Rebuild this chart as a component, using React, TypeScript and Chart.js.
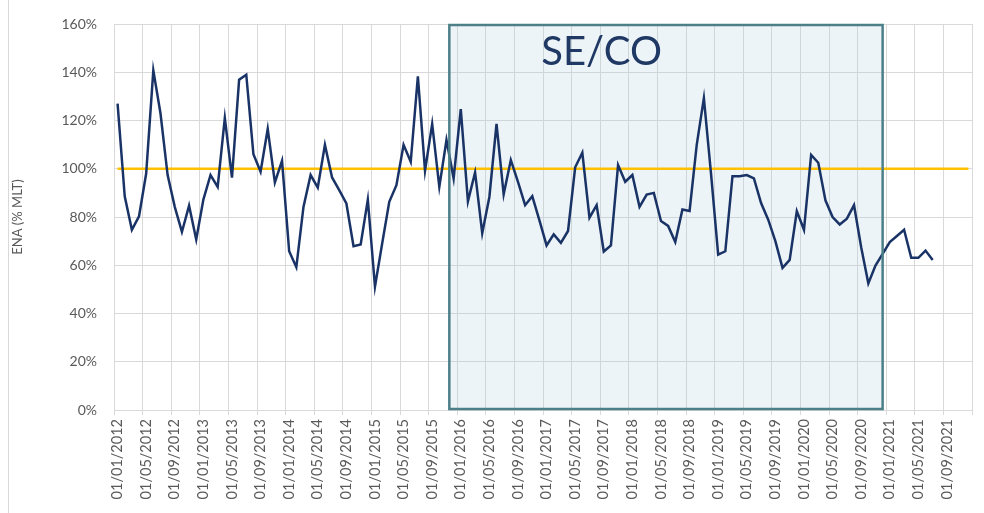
import React, { useEffect, useRef } from "react";
import { Chart, registerables } from "chart.js";

Chart.register(...registerables);

// Monthly categories, Jan 2012 .. Dec 2021 (axis extends to end of 2021)
const YEARS = [2012, 2013, 2014, 2015, 2016, 2017, 2018, 2019, 2020, 2021];
const MONTHS = ["01", "02", "03", "04", "05", "06", "07", "08", "09", "10", "11", "12"];
const categories: string[] = [];
YEARS.forEach((y) => MONTHS.forEach((m) => categories.push(`01/${m}/${y}`)));

// ENA (% MLT), Jan 2012 .. Jul 2021
const enaValues = [
  127, 88.6, 74.7, 80.3, 98, 140.8, 123, 97.4, 84.2, 73.8, 84.7, 70.7,
  87.2, 97.4, 92.5, 121, 96.3, 136.9, 139, 106, 98.8, 116.5, 94.3, 103.3,
  65.8, 59.2, 84.2, 97.4, 92.2, 109.9, 96.4, 91.1, 85.6, 67.9, 68.6, 87.2,
  51.1, 68.9, 86.3, 93.2, 109.9, 102.9, 138.3, 99.2, 118.6, 92.5, 111.9, 96,
  124.7, 86.5, 98.5, 73.3, 88.3, 118.6, 89.4, 103.6, 94.6, 84.9, 88.6, 78.6,
  68.2, 72.8, 69.3, 74.2, 100.6, 106.7, 79.7, 84.9, 65.7, 68.2, 101.5, 94.6,
  97.4, 84.2, 89.3, 90, 78.3, 76.3, 69.6, 83.1, 82.5, 109.9, 129.3, 98,
  64.4, 65.8, 96.9, 96.9, 97.4, 96, 85.8, 78.9, 70, 58.9, 62.2, 82.4,
  74.7, 105.7, 102.5, 86.9, 80, 76.9, 79.3, 84.9, 67.5, 52.5, 59.9, 64.7,
  69.6, 72.1, 74.7, 63.1, 63.1, 66.1, 62.2,
];

// MLT reference (100%) across the whole axis
const referenceLine = [
  { x: "01/01/2012", y: 100 },
  { x: "01/12/2021", y: 100 },
];

const yTicks = [0, 20, 40, 60, 80, 100, 120, 140, 160];

// Highlighted period (category index positions) and its label
const HIGHLIGHT_FROM = 46.4;
const HIGHLIGHT_TO = 107;
const HIGHLIGHT_LABEL = "SE/CO";
const HIGHLIGHT_LABEL_AT = 67.7;

const FONT = "Lato, 'Noto Sans', sans-serif";
const GRID = "#d9d9d9";
const TEXT = "#595959";

const highlightPlugin = {
  id: "highlightBox",
  beforeDatasetsDraw(chart: any) {
    const { ctx, chartArea, scales } = chart;
    const x1 = scales.x.getPixelForValue(HIGHLIGHT_FROM);
    const x2 = scales.x.getPixelForValue(HIGHLIGHT_TO);
    ctx.save();
    ctx.fillStyle = "rgba(175, 203, 218, 0.22)";
    ctx.fillRect(x1, chartArea.top, x2 - x1, chartArea.bottom - chartArea.top);
    ctx.restore();
  },
  afterDatasetsDraw(chart: any) {
    const { ctx, chartArea, scales } = chart;
    const x1 = scales.x.getPixelForValue(HIGHLIGHT_FROM);
    const x2 = scales.x.getPixelForValue(HIGHLIGHT_TO);
    ctx.save();
    ctx.strokeStyle = "#4d7f89";
    ctx.lineWidth = 2.5;
    ctx.strokeRect(x1, chartArea.top + 1, x2 - x1, chartArea.bottom - chartArea.top - 2);
    ctx.fillStyle = "#1f3864";
    ctx.font = `40px ${FONT}`;
    ctx.textAlign = "center";
    ctx.textBaseline = "alphabetic";
    ctx.fillText(HIGHLIGHT_LABEL, scales.x.getPixelForValue(HIGHLIGHT_LABEL_AT), chartArea.top + 41);
    ctx.restore();
  },
};

export default function App() {
  const canvasRef = useRef<HTMLCanvasElement | null>(null);

  useEffect(() => {
    if (!canvasRef.current) return;
    const chart = new Chart(canvasRef.current, {
      type: "line",
      data: {
        labels: categories,
        datasets: [
          {
            label: "MLT",
            data: referenceLine as any,
            borderColor: "#ffc000",
            borderWidth: 2.5,
            pointRadius: 0,
            tension: 0,
            order: 2,
          },
          {
            label: "ENA",
            data: enaValues,
            borderColor: "#1a3366",
            borderWidth: 2.5,
            pointRadius: 0,
            tension: 0,
            order: 1,
          },
        ],
      },
      options: {
        animation: false,
        responsive: true,
        maintainAspectRatio: false,
        layout: { padding: { left: 0, right: 12, top: 24, bottom: 0 } },
        plugins: {
          legend: { display: false },
          tooltip: { enabled: false },
        },
        scales: {
          x: {
            type: "category",
            offset: true,
            border: { display: false },
            grid: {
              offset: true,
              tickLength: 5,
              lineWidth: 1,
              color: (ctx: any) =>
                ctx.type === "tick" ? (ctx.index % 4 === 0 ? GRID : "rgba(0,0,0,0)") : GRID,
            },
            ticks: {
              autoSkip: false,
              maxRotation: 90,
              minRotation: 90,
              padding: 4,
              color: TEXT,
              font: { family: FONT, size: 14.5 },
              callback: (_v: any, i: number) => (i % 4 === 0 ? categories[i] : ""),
            },
            afterFit: (scale: any) => {
              scale.height = 103;
              scale.paddingLeft = 0;
              scale.paddingRight = 0;
            },
          },
          y: {
            min: 0,
            max: 160,
            border: { display: false },
            grid: { color: GRID, drawTicks: false, lineWidth: 1 },
            afterBuildTicks: (scale: any) => {
              scale.ticks = yTicks.map((v) => ({ value: v }));
            },
            ticks: {
              padding: 17,
              color: TEXT,
              font: { family: FONT, size: 14 },
              callback: (v: any) => `${v}%`,
            },
            title: {
              display: true,
              text: "ENA (% MLT)",
              color: TEXT,
              font: { family: FONT, size: 13 },
              padding: { top: 10, bottom: 0 },
            },
            afterFit: (scale: any) => {
              scale.width = 114;
              scale.paddingTop = 0;
              scale.paddingBottom = 0;
            },
          },
        },
      },
      plugins: [highlightPlugin],
    });
    return () => chart.destroy();
  }, []);

  return (
    <div
      style={{
        position: "fixed",
        left: 0,
        top: 0,
        width: 984,
        height: 513,
        background: "#ffffff",
      }}
    >
      <div
        style={{
          position: "absolute",
          left: 8,
          top: 0,
          width: 1,
          height: 513,
          background: GRID,
        }}
      />
      <canvas ref={canvasRef} />
    </div>
  );
}
